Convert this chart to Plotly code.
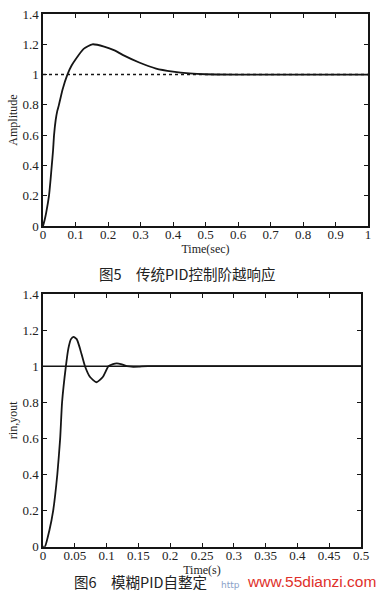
import plotly.graph_objects as go

# ---- Figure 5: conventional PID step response ----
t5 = [0, 0.005, 0.01, 0.0185, 0.023, 0.027, 0.031, 0.034, 0.039, 0.044, 0.049, 0.06, 0.075,
      0.088, 0.1, 0.125, 0.152, 0.188, 0.22, 0.245, 0.296, 0.348, 0.40, 0.45, 0.50, 0.6, 0.8, 1.0]
y5 = [0, 0.04, 0.09, 0.2, 0.3, 0.4, 0.5, 0.6, 0.7, 0.76, 0.8, 0.9, 1.0,
      1.06, 1.1, 1.17, 1.2, 1.185, 1.16, 1.13, 1.08, 1.04, 1.02, 1.008, 1.002, 1.0, 1.0, 1.0]
ref5_t = [0, 1]
ref5_y = [1, 1]

# ---- Figure 6: fuzzy self-tuning PID response ----
t6 = [0, 0.003, 0.01, 0.016, 0.0225, 0.027, 0.030, 0.036, 0.040, 0.044, 0.048, 0.053, 0.058,
      0.066, 0.074, 0.084, 0.094, 0.103, 0.110, 0.116, 0.124, 0.132, 0.142, 0.152, 0.165, 0.5]
y6 = [0, 0, 0.09, 0.2, 0.4, 0.6, 0.8, 1.0, 1.1, 1.15, 1.163, 1.15, 1.1,
      1.0, 0.94, 0.911, 0.94, 1.0, 1.012, 1.016, 1.01, 1.0, 0.997, 0.998, 1.0, 1.0]
ref6_t = [0, 0.5]
ref6_y = [1, 1]

y_ticks = [0, 0.2, 0.4, 0.6, 0.8, 1, 1.2, 1.4]
y_ticktext = ["0", "0.2", "0.4", "0.6", "0.8", "1", "1.2", "1.4"]
x5_ticks = [0, 0.1, 0.2, 0.3, 0.4, 0.5, 0.6, 0.7, 0.8, 0.9, 1]
x5_text = ["0", "0.1", "0.2", "0.3", "0.4", "0.5", "0.6", "0.7", "0.8", "0.9", "1"]
x6_ticks = [0, 0.05, 0.1, 0.15, 0.2, 0.25, 0.3, 0.35, 0.4, 0.45, 0.5]
x6_text = ["0", "0.05", "0.1", "0.15", "0.2", "0.25", "0.3", "0.35", "0.4", "0.45", "0.5"]

W, H = 380, 603
ink = "#151515"
serif = "Liberation Serif, Times New Roman, serif"

fig = go.Figure()
fig.add_trace(go.Scatter(x=ref5_t, y=ref5_y, mode="lines", xaxis="x", yaxis="y",
                         line=dict(color=ink, width=1.6, dash="dot"), showlegend=False))
fig.add_trace(go.Scatter(x=t5, y=y5, mode="lines", xaxis="x", yaxis="y",
                         line=dict(color=ink, width=1.8, shape="spline", smoothing=0.5),
                         showlegend=False))
fig.add_trace(go.Scatter(x=ref6_t, y=ref6_y, mode="lines", xaxis="x2", yaxis="y2",
                         line=dict(color=ink, width=1.6), showlegend=False))
fig.add_trace(go.Scatter(x=t6, y=y6, mode="lines", xaxis="x2", yaxis="y2",
                         line=dict(color=ink, width=1.8, shape="spline", smoothing=0.5),
                         showlegend=False))

def ax(**kw):
    d = dict(showline=True, linecolor=ink, linewidth=1.5, mirror="allticks",
             ticks="inside", ticklen=4, tickwidth=1, tickcolor=ink,
             showgrid=False, zeroline=False, automargin=False,
             tickfont=dict(family=serif, size=13, color="#222"))
    d.update(kw)
    return d

tfont = dict(family=serif, size=12, color="#222")
fig.update_layout(
    width=W, height=H, margin=dict(l=0, r=0, t=0, b=0),
    paper_bgcolor="white", plot_bgcolor="white",
    xaxis=ax(domain=[43 / W, 368 / W], anchor="y", range=[0, 1],
             tickvals=x5_ticks, ticktext=x5_text, ticklabelstandoff=-4,
             title=dict(text="Time(sec)", font=tfont, standoff=3)),
    yaxis=ax(domain=[1 - 226 / H, 1 - 14 / H], anchor="x", range=[0, 1.4],
             tickvals=y_ticks, ticktext=y_ticktext,
             title=dict(text="Amplitude", font=tfont, standoff=2)),
    xaxis2=ax(domain=[43 / W, 361 / W], anchor="y2", range=[0, 0.5],
              tickvals=x6_ticks, ticktext=x6_text, ticklabelstandoff=-4,
              title=dict(text="Time(s)", font=tfont, standoff=3)),
    yaxis2=ax(domain=[1 - 546.7 / H, 1 - 294 / H], anchor="x2", range=[0, 1.4],
              tickvals=y_ticks, ticktext=y_ticktext,
              title=dict(text="rin,yout", font=tfont, standoff=2)),
)

cjk = "Noto Sans CJK SC"
fig.add_annotation(text="图5　传统PID控制阶越响应", x=97 / W, y=1 - 273 / H, xanchor="left",
                   xref="paper", yref="paper", showarrow=False,
                   font=dict(family=cjk, size=14.5, color="#222"))
fig.add_annotation(text="图6　模糊PID自整定", x=72 / W, y=1 - 594 / H, xanchor="left",
                   xref="paper", yref="paper", showarrow=False,
                   font=dict(family=cjk, size=14.5, color="#222"))
fig.add_annotation(text="http", x=219 / W, y=1 - 592 / H, xanchor="left",
                   xref="paper", yref="paper", showarrow=False,
                   font=dict(family="DejaVu Sans", size=9, color="#8aa0c8"))
fig.add_annotation(text="www.55dianzi.com", x=378 / W, y=1 - 592 / H, xanchor="right",
                   xref="paper", yref="paper", showarrow=False,
                   font=dict(family="Liberation Sans, Arial, sans-serif", size=15.5, color="#e0302a"))

fig.write_html("out.html", config={"displayModeBar": False},
               post_script="document.body.style.margin='0';document.body.style.overflow='hidden';")
